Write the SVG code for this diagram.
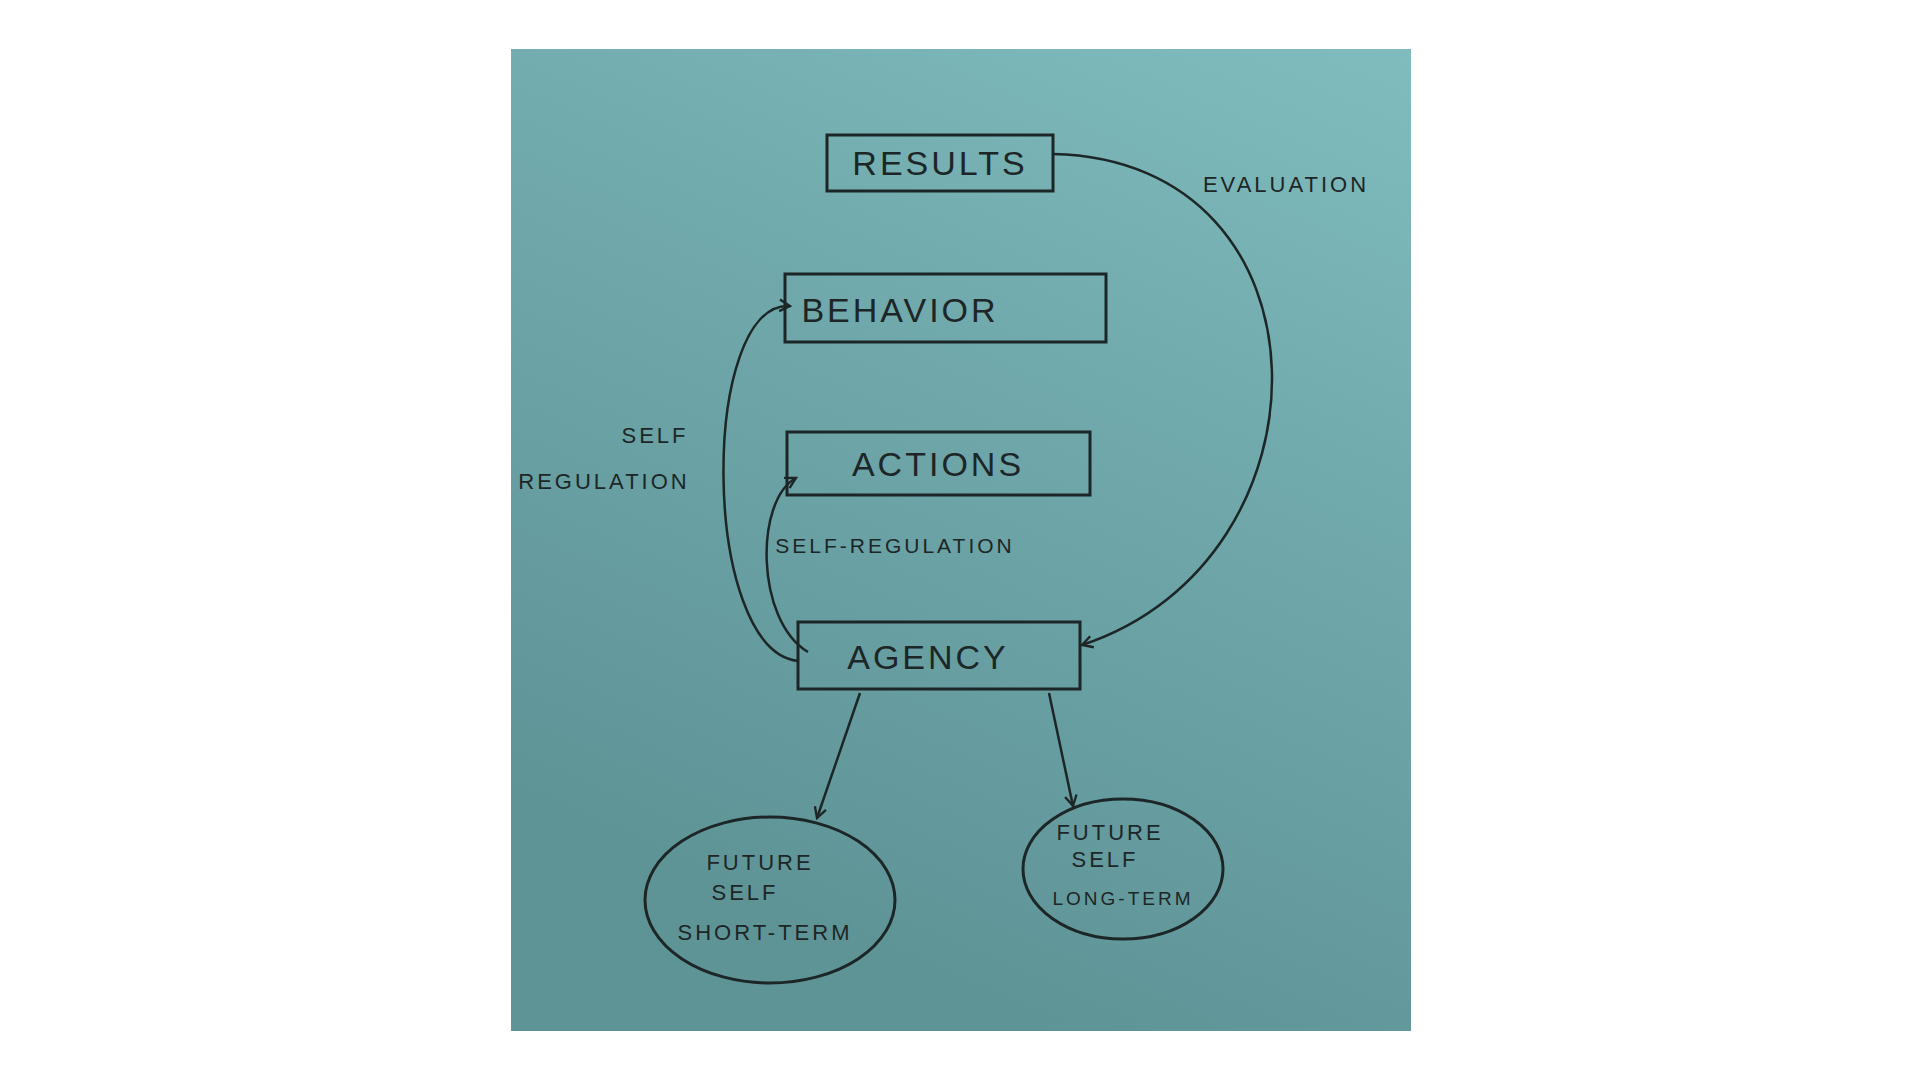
<svg xmlns="http://www.w3.org/2000/svg" width="1920" height="1080" viewBox="0 0 1920 1080">
<defs>
<linearGradient id="bg" x1="1" y1="0" x2="0.6" y2="1">
<stop offset="0" stop-color="#80bcbe"/><stop offset="0.5" stop-color="#6ea6a9"/><stop offset="1" stop-color="#5f9497"/>
</linearGradient>
<marker id="ah" viewBox="0 0 12 12" refX="10" refY="6" markerWidth="14" markerHeight="14" markerUnits="userSpaceOnUse" orient="auto">
<path d="M1,1 L10,6 L1,11" fill="none" stroke="#1d2626" stroke-width="2"/>
</marker>
<style>
.n{fill:none;stroke:#1d2626;stroke-width:3}
.c{fill:none;stroke:#1d2626;stroke-width:2.5;marker-end:url(#ah)}
.t{font-family:"Liberation Sans",sans-serif;fill:#1d2626;text-anchor:middle;letter-spacing:3px}
.big{font-size:34px}
.sm{font-size:22px}
</style>
</defs>
<rect x="0" y="0" width="1920" height="1080" fill="#fff"/>
<rect x="511" y="49" width="900" height="982" fill="url(#bg)"/>
<g id="results"><rect class="n" x="827" y="135" width="226" height="56"/><text class="t big" x="940" y="175">RESULTS</text></g>
<g id="behavior"><rect class="n" x="785" y="274" width="321" height="68"/><text class="t big" x="900" y="322">BEHAVIOR</text></g>
<g id="actions"><rect class="n" x="787" y="432" width="303" height="63"/><text class="t big" x="938" y="476">ACTIONS</text></g>
<g id="agency"><rect class="n" x="798" y="622" width="282" height="67"/><text class="t big" x="928" y="669">AGENCY</text></g>
<g id="short"><ellipse class="n" cx="770" cy="900" rx="125" ry="83"/><text class="t sm" x="760" y="870">FUTURE</text><text class="t sm" x="745" y="900">SELF</text><text class="t sm" x="765" y="940">SHORT-TERM</text></g>
<g id="long"><ellipse class="n" cx="1123" cy="869" rx="100" ry="70"/><text class="t sm" x="1110" y="840">FUTURE</text><text class="t sm" x="1105" y="867">SELF</text><text class="t" style="font-size:19px" x="1123" y="905">LONG-TERM</text></g>
<g id="connectors">
<path class="c" d="M1053,154 C1340,160 1340,560 1082,645"/>
<path class="c" d="M798,661 C700,650 700,300 790,306"/>
<path class="c" d="M808,652 C755,620 755,500 796,478"/>
<path class="c" d="M860,693 L817,818"/>
<path class="c" d="M1049,693 L1073,806"/>
</g>
<g id="labels">
<text class="t sm" x="1286" y="192">EVALUATION</text>
<text class="t sm" x="655" y="443">SELF</text>
<text class="t sm" x="604" y="489">REGULATION</text>
<text class="t" style="font-size:21px" x="895" y="553">SELF-REGULATION</text>
</g>
</svg>
